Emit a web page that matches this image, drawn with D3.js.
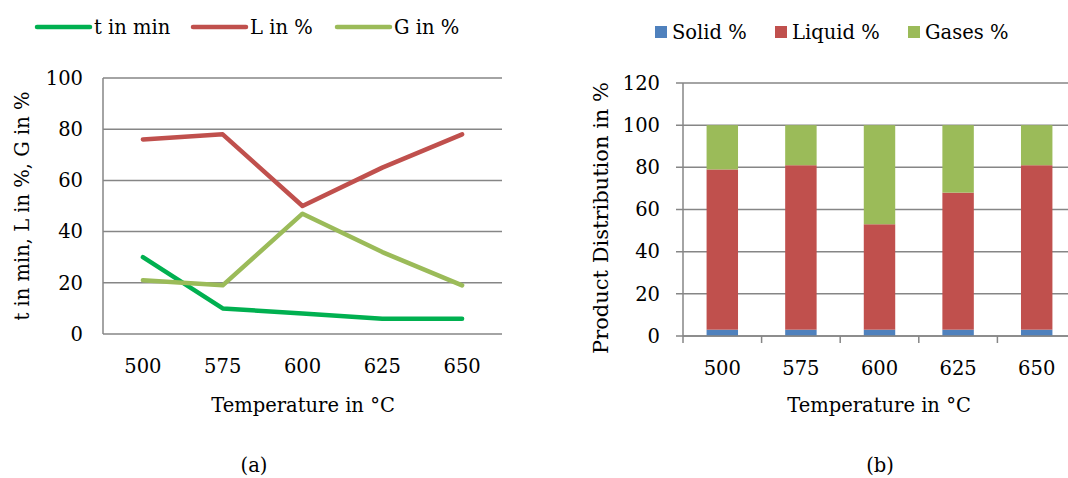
<!DOCTYPE html>
<html>
<head>
<meta charset="utf-8">
<script src="https://cdn.jsdelivr.net/npm/d3@7"></script>
<style>
  body { margin: 0; background: #fff; }
  text { font-family: "DejaVu Serif", serif; fill: #000; }
</style>
</head>
<body>
<div id="wrapper"></div>
<script>
const FONT_SIZE = "19.5px";
const GRID_COLOR = "#868686";

// data
const temperatures = ["500", "575", "600", "625", "650"];
const tValues = [30, 10, 8, 6, 6];
const lValues = [76, 78, 50, 65, 78];
const gValues = [21, 19, 47, 32, 19];

const solidValues = [3, 3, 3, 3, 3];
const liquidValues = [76, 78, 50, 65, 78];
const gasesValues = [21, 19, 47, 32, 19];

const leftTicks = [0, 20, 40, 60, 80, 100];
const rightTicks = [0, 20, 40, 60, 80, 100, 120];

const lineSeries = [
    { name: "t in min", values: tValues, color: "#00B050" },
    { name: "L in %", values: lValues, color: "#C0504D" },
    { name: "G in %", values: gValues, color: "#9BBB59" },
];

const barSeries = [
    { name: "Solid %", values: solidValues, color: "#4F81BD" },
    { name: "Liquid %", values: liquidValues, color: "#C0504D" },
    { name: "Gases %", values: gasesValues, color: "#9BBB59" },
];

const svg = d3.select("#wrapper")
    .append("svg")
    .attr("width", 1068)
    .attr("height", 478);

// ---------- (a) line chart ----------
const left = { x0: 103, x1: 502, y0: 334, y1: 78 };

const xA = d3.scaleBand()
    .domain(temperatures)
    .range([left.x0, left.x1]);

const yA = d3.scaleLinear()
    .domain([0, 100])
    .range([left.y0, left.y1]);

const gA = svg.append("g");

gA.append("g")
    .selectAll("line")
    .data(leftTicks)
    .enter().append("line")
    .attr("x1", left.x0)
    .attr("x2", left.x1)
    .attr("y1", d => yA(d))
    .attr("y2", d => yA(d))
    .attr("stroke", GRID_COLOR)
    .attr("stroke-width", 1.5);

gA.append("line")
    .attr("x1", left.x0).attr("x2", left.x0)
    .attr("y1", left.y0).attr("y2", left.y1)
    .attr("stroke", GRID_COLOR)
    .attr("stroke-width", 1.5);

gA.append("g")
    .selectAll("text")
    .data(leftTicks)
    .enter().append("text")
    .attr("x", left.x0 - 20)
    .attr("y", d => yA(d))
    .attr("dy", "0.35em")
    .attr("text-anchor", "end")
    .style("font-size", FONT_SIZE)
    .text(d => d);

gA.append("g")
    .selectAll("text")
    .data(temperatures)
    .enter().append("text")
    .attr("x", d => xA(d) + xA.bandwidth() / 2)
    .attr("y", 366)
    .attr("dy", "0.35em")
    .attr("text-anchor", "middle")
    .style("font-size", FONT_SIZE)
    .text(d => d);

const lineGen = d3.line()
    .x((d, i) => xA(temperatures[i]) + xA.bandwidth() / 2)
    .y(d => yA(d));

gA.append("g")
    .selectAll("path")
    .data(lineSeries)
    .enter().append("path")
    .attr("d", d => lineGen(d.values))
    .attr("fill", "none")
    .attr("stroke", d => d.color)
    .attr("stroke-width", 4.5)
    .attr("stroke-linejoin", "round")
    .attr("stroke-linecap", "round");

gA.append("text")
    .attr("transform", "translate(29, 206) rotate(-90)")
    .attr("text-anchor", "middle")
    .style("font-size", FONT_SIZE)
    .text("t in min, L in %, G in %");

gA.append("text")
    .attr("x", 303)
    .attr("y", 405)
    .attr("dy", "0.35em")
    .attr("text-anchor", "middle")
    .style("font-size", FONT_SIZE)
    .text("Temperature in °C");

const legendA = gA.append("g")
    .selectAll("g")
    .data(lineSeries)
    .enter().append("g")
    .attr("transform", (d, i) => `translate(${[37, 193, 337][i]}, 27)`);

legendA.append("line")
    .attr("x1", 0).attr("x2", 53)
    .attr("stroke", d => d.color)
    .attr("stroke-width", 4.5)
    .attr("stroke-linecap", "round");

legendA.append("text")
    .attr("x", 57)
    .attr("dy", "0.35em")
    .style("font-size", FONT_SIZE)
    .text(d => d.name);

svg.append("text")
    .attr("x", 254)
    .attr("y", 465)
    .attr("dy", "0.35em")
    .attr("text-anchor", "middle")
    .style("font-size", FONT_SIZE)
    .text("(a)");

// ---------- (b) stacked bars ----------
const right = { x0: 683, x1: 1076, y0: 336, y1: 83 };

const xB = d3.scaleBand()
    .domain(temperatures)
    .range([right.x0, right.x1])
    .paddingInner(0.6)
    .paddingOuter(0.3);

const xBand = d3.scaleBand()
    .domain(temperatures)
    .range([right.x0, right.x1]);

const yB = d3.scaleLinear()
    .domain([0, 120])
    .range([right.y0, right.y1]);

const gB = svg.append("g");

gB.append("g")
    .selectAll("line")
    .data(rightTicks)
    .enter().append("line")
    .attr("x1", right.x0 - 7)
    .attr("x2", 1068)
    .attr("y1", d => yB(d))
    .attr("y2", d => yB(d))
    .attr("stroke", GRID_COLOR)
    .attr("stroke-width", 1.5);

const table = temperatures.map((t, i) => ({
    temp: t,
    "Solid %": solidValues[i],
    "Liquid %": liquidValues[i],
    "Gases %": gasesValues[i],
}));

const stack = d3.stack().keys(barSeries.map(d => d.name))(table);

gB.append("g")
    .selectAll("g")
    .data(stack)
    .enter().append("g")
    .attr("fill", (d, i) => barSeries[i].color)
    .selectAll("rect")
    .data(d => d)
    .enter().append("rect")
    .attr("x", d => xB(d.data.temp))
    .attr("width", xB.bandwidth())
    .attr("y", d => yB(d[1]))
    .attr("height", d => yB(d[0]) - yB(d[1]));

gB.append("line")
    .attr("x1", right.x0).attr("x2", right.x0)
    .attr("y1", right.y0).attr("y2", right.y1)
    .attr("stroke", GRID_COLOR)
    .attr("stroke-width", 1.5);

gB.append("line")
    .attr("x1", right.x0).attr("x2", 1068)
    .attr("y1", right.y0).attr("y2", right.y0)
    .attr("stroke", GRID_COLOR)
    .attr("stroke-width", 1.5);

gB.append("g")
    .selectAll("line")
    .data(temperatures)
    .enter().append("line")
    .attr("x1", d => xBand(d))
    .attr("x2", d => xBand(d))
    .attr("y1", right.y0)
    .attr("y2", right.y0 + 7)
    .attr("stroke", GRID_COLOR)
    .attr("stroke-width", 1.5);

gB.append("g")
    .selectAll("text")
    .data(rightTicks)
    .enter().append("text")
    .attr("x", right.x0 - 23)
    .attr("y", d => yB(d))
    .attr("dy", "0.35em")
    .attr("text-anchor", "end")
    .style("font-size", FONT_SIZE)
    .text(d => d);

gB.append("g")
    .selectAll("text")
    .data(temperatures)
    .enter().append("text")
    .attr("x", d => xBand(d) + xBand.bandwidth() / 2)
    .attr("y", 368)
    .attr("dy", "0.35em")
    .attr("text-anchor", "middle")
    .style("font-size", FONT_SIZE)
    .text(d => d);

gB.append("text")
    .attr("transform", "translate(608, 218) rotate(-90)")
    .attr("text-anchor", "middle")
    .style("font-size", "21px")
    .text("Product Distribution in %");

gB.append("text")
    .attr("x", 879)
    .attr("y", 405)
    .attr("dy", "0.35em")
    .attr("text-anchor", "middle")
    .style("font-size", FONT_SIZE)
    .text("Temperature in °C");

const legendB = gB.append("g")
    .selectAll("g")
    .data(barSeries)
    .enter().append("g")
    .attr("transform", (d, i) => `translate(${[655, 775, 908][i]}, 32)`);

legendB.append("rect")
    .attr("x", 0).attr("y", -6)
    .attr("width", 12).attr("height", 12)
    .attr("fill", d => d.color);

legendB.append("text")
    .attr("x", 17)
    .attr("dy", "0.35em")
    .style("font-size", FONT_SIZE)
    .text(d => d.name);

svg.append("text")
    .attr("x", 880)
    .attr("y", 465)
    .attr("dy", "0.35em")
    .attr("text-anchor", "middle")
    .style("font-size", FONT_SIZE)
    .text("(b)");
</script>
</body>
</html>
